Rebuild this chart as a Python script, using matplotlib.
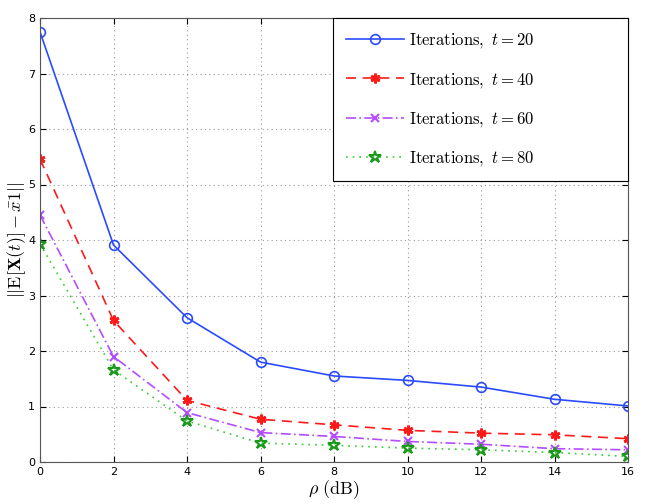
import matplotlib
matplotlib.use("Agg")
import matplotlib.pyplot as plt

rho = [0, 2, 4, 6, 8, 10, 12, 14, 16]
t20 = [7.75, 3.91, 2.60, 1.80, 1.55, 1.47, 1.35, 1.13, 1.01]
t40 = [5.46, 2.55, 1.11, 0.77, 0.67, 0.57, 0.52, 0.49, 0.42]
t60 = [4.45, 1.90, 0.89, 0.53, 0.46, 0.37, 0.32, 0.24, 0.22]
t80 = [3.93, 1.66, 0.74, 0.34, 0.30, 0.25, 0.22, 0.17, 0.10]
labels = [r'$\mathrm{Iterations,}\ t=20$', r'$\mathrm{Iterations,}\ t=40$',
          r'$\mathrm{Iterations,}\ t=60$', r'$\mathrm{Iterations,}\ t=80$']
xticks = [0, 2, 4, 6, 8, 10, 12, 14, 16]
yticks = [0, 1, 2, 3, 4, 5, 6, 7, 8]

plt.rcParams['mathtext.fontset'] = 'cm'
plt.rcParams['font.family'] = ['DejaVu Sans']

fig = plt.figure(figsize=(6.54, 5.04), dpi=100)
ax = fig.add_axes([40/654, 1 - 462/504, 588/654, 444/504])

ax.plot(rho, t20, color='#2a4bff', linestyle='-', marker='o', markersize=7,
        markerfacecolor='none', markeredgewidth=1.2, linewidth=1.2, label=labels[0])
ax.plot(rho, t40, color='#ff1a1a', linestyle=(0, (6, 4)), marker=(6, 2, 0), markersize=7,
        markeredgewidth=2, linewidth=1.2, label=labels[1])
ax.plot(rho, t60, color='#b44cff', linestyle=(0, (6, 2, 1, 2)), marker='x', markersize=6,
        markeredgewidth=1.5, linewidth=1.2, label=labels[2])
ax.plot(rho, t80, color='#33cc33', linestyle=(0, (1, 3)), marker='*', markersize=9,
        markerfacecolor='none', markeredgecolor='#1a991a', markeredgewidth=1.5,
        linewidth=1.2, label=labels[3])

ax.set_xlim(0, 16)
ax.set_ylim(0, 8)
ax.set_xticks(xticks)
ax.set_yticks(yticks)
ax.tick_params(direction='in', labelsize=8, length=4, top=True, right=True)
ax.grid(True, linestyle=(0, (1, 3)), color='#999999', linewidth=0.8)
for s in ax.spines.values():
    s.set_color('#555555')

ax.set_xlabel(r'$\rho\ \mathrm{(dB)}$', fontsize=13, labelpad=1)
ax.set_ylabel(r'$||\mathrm{E}[\mathbf{X}(t)]-\bar{x}\mathbf{1}||$', fontsize=13, labelpad=0)

x0 = (333 - 40) / 588
leg = ax.legend(loc='upper left', bbox_to_anchor=(x0, 1.0, 1.0 - x0, 0.0), mode='expand',
                fontsize=12, fancybox=False, framealpha=1,
                edgecolor='black', borderpad=0.75, labelspacing=1.2, handlelength=3.5,
                handletextpad=0.3, borderaxespad=0)
leg.get_frame().set_linewidth(0.8)

fig.savefig('out.png', dpi=100)
